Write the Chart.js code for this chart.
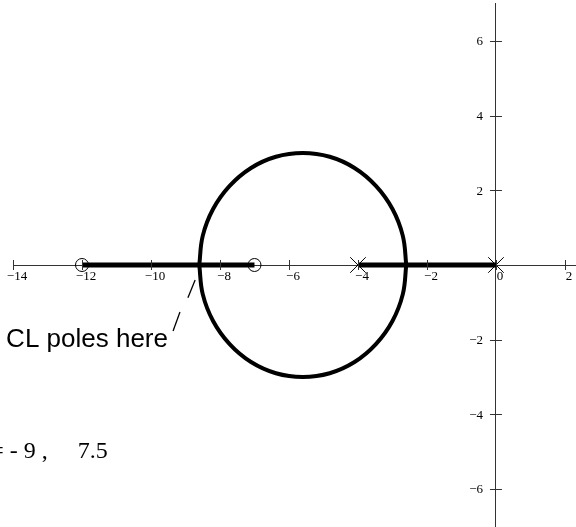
<!DOCTYPE html>
<html>
<head>
<meta charset="utf-8">
<script src="https://cdn.jsdelivr.net/npm/chart.js@4/dist/chart.umd.min.js"></script>
<style>
  html, body { margin: 0; padding: 0; background: #ffffff; }
  #wrap { width: 576px; height: 527px; position: relative; overflow: hidden; }
</style>
</head>
<body>
<div id="wrap"><canvas id="rlocus" width="576" height="527"></canvas></div>
<script>
// Open-loop poles and zeros of G(s) = K (s+7)(s+12) / (s (s+4))
const openLoopPoles = [0, -4];
const openLoopZeros = [-12, -7];

// Real-axis branches of the locus
const realBranchA = [-12, -7];
const realBranchB = [-4, 0];

// Complex branch (upper half), breakaway near -8.6 and -2.6
const upperRe = [-8.60, -8.50, -8.20, -7.72, -7.10, -6.38, -5.60, -4.82, -4.10, -3.48, -3.00, -2.70, -2.60];
const upperIm = [0.00, 0.78, 1.50, 2.12, 2.60, 2.90, 3.00, 2.90, 2.60, 2.12, 1.50, 0.78, 0.00];
// Complex branch (lower half), conjugate of the upper half
const lowerRe = [-8.60, -8.50, -8.20, -7.72, -7.10, -6.38, -5.60, -4.82, -4.10, -3.48, -3.00, -2.70, -2.60];
const lowerIm = [0.00, -0.78, -1.50, -2.12, -2.60, -2.90, -3.00, -2.90, -2.60, -2.12, -1.50, -0.78, 0.00];

// Pointer strokes next to the closed-loop pole label
const pointerOneRe = [-8.72, -8.93];
const pointerOneIm = [-0.40, -0.88];
const pointerTwoRe = [-9.16, -9.36];
const pointerTwoIm = [-1.26, -1.77];

// Axis tick values
const reTicks = [-14, -12, -10, -8, -6, -4, -2, 0, 2];
const imTicks = [-6, -4, -2, 2, 4, 6];

// Text notes
const poleNote = 'CL poles here';
const gainNote = '= - 9 ,     7.5';

const pts = (xs, ys) => xs.map((x, i) => ({ x: x, y: ys[i] }));
const minusFmt = v => (v < 0 ? '\u2212' + Math.abs(v) : String(v));

const ink = '#000000';
const axisInk = '#333333';
const tickFont = { family: '"Liberation Serif", "Times New Roman", serif', size: 13 };

const datasets = [
  { data: pts(upperRe, upperIm), showLine: true, borderColor: ink, borderWidth: 4, pointRadius: 0, tension: 0.4, fill: false },
  { data: pts(lowerRe, lowerIm), showLine: true, borderColor: ink, borderWidth: 4, pointRadius: 0, tension: 0.4, fill: false },
  { data: pts(realBranchA, [0, 0]), showLine: true, borderColor: ink, borderWidth: 5, pointRadius: 0 },
  { data: pts(realBranchB, [0, 0]), showLine: true, borderColor: ink, borderWidth: 5, pointRadius: 0 },
  { data: pts(pointerOneRe, pointerOneIm), showLine: true, borderColor: ink, borderWidth: 1.3, pointRadius: 0 },
  { data: pts(pointerTwoRe, pointerTwoIm), showLine: true, borderColor: ink, borderWidth: 1.3, pointRadius: 0 },
  { data: pts(openLoopPoles, openLoopPoles.map(() => 0)), showLine: false, pointStyle: 'crossRot', pointRadius: 11, borderColor: ink, borderWidth: 1, backgroundColor: 'rgba(0,0,0,0)' },
  { data: pts(openLoopZeros, openLoopZeros.map(() => 0)), showLine: false, pointStyle: 'circle', pointRadius: 6.5, borderColor: ink, borderWidth: 1, backgroundColor: 'rgba(0,0,0,0)' }
];

// Tick marks that cross the axis lines on both sides
const crossTicks = {
  id: 'crossTicks',
  afterDatasetsDraw(chart) {
    const { ctx, scales: { x, y } } = chart;
    const y0 = y.getPixelForValue(0);
    const x0 = x.getPixelForValue(0);
    ctx.save();
    ctx.strokeStyle = axisInk;
    ctx.lineWidth = 1;
    ctx.beginPath();
    reTicks.forEach(v => {
      const px = Math.round(x.getPixelForValue(v)) + 0.5;
      ctx.moveTo(px, y0 - 5);
      ctx.lineTo(px, y0 + 5);
    });
    imTicks.forEach(v => {
      const py = Math.round(y.getPixelForValue(v)) + 0.5;
      ctx.moveTo(x0 - 6, py);
      ctx.lineTo(x0 + 6, py);
    });
    ctx.stroke();
    ctx.restore();
  }
};

// Keep the vertical axis labels clear of the crossing tick marks
const yLabelGap = {
  id: 'yLabelGap',
  beforeDraw(chart) {
    const scale = chart.scales.y;
    const items = scale.getLabelItems(chart.chartArea);
    items.forEach(item => {
      if (!item._shifted) {
        item.options.translation[0] -= 13;
        item.options.translation[1] += 1;
        item._shifted = true;
      }
    });
  }
};

// Text notes anchored in data coordinates
const notes = {
  id: 'notes',
  afterDraw(chart) {
    const { ctx, scales: { x, y } } = chart;
    ctx.save();
    ctx.fillStyle = ink;
    ctx.textAlign = 'left';
    ctx.textBaseline = 'alphabetic';
    ctx.font = '26px "Liberation Sans", Arial, sans-serif';
    ctx.fillText(poleNote, x.getPixelForValue(-14.2), y.getPixelForValue(-2.2));
    ctx.font = '24px "Liberation Serif", "Times New Roman", serif';
    ctx.fillText(gainNote, x.getPixelForValue(-14.66), y.getPixelForValue(-5.18));
    ctx.restore();
  }
};

const noEdgePad = scale => {
  scale.paddingLeft = 0;
  scale.paddingRight = 0;
  scale.paddingTop = 0;
  scale.paddingBottom = 0;
};

new Chart(document.getElementById('rlocus'), {
  type: 'scatter',
  data: { datasets: datasets },
  options: {
    responsive: false,
    animation: false,
    devicePixelRatio: 1,
    layout: { autoPadding: false, padding: { left: 13, right: 0, top: 3, bottom: 0 } },
    plugins: { legend: { display: false }, tooltip: { enabled: false } },
    scales: {
      x: {
        type: 'linear',
        min: -14,
        max: 2.32,
        position: { y: 0 },
        afterBuildTicks: s => { s.ticks = reTicks.map(v => ({ value: v })); },
        afterFit: noEdgePad,
        grid: { display: true, drawOnChartArea: false, drawTicks: false },
        border: { display: true, color: axisInk, width: 1 },
        ticks: {
          color: ink,
          padding: 4,
          labelOffset: 4,
          maxRotation: 0,
          autoSkip: false,
          font: tickFont,
          callback: v => minusFmt(v)
        }
      },
      y: {
        type: 'linear',
        min: -7.02,
        max: 7.02,
        position: { x: 0 },
        afterBuildTicks: s => { s.ticks = imTicks.map(v => ({ value: v })); },
        afterFit: noEdgePad,
        grid: { display: true, drawOnChartArea: false, drawTicks: false },
        border: { display: true, color: axisInk, width: 1 },
        ticks: {
          color: ink,
          autoSkip: false,
          font: tickFont,
          callback: v => minusFmt(v)
        }
      }
    }
  },
  plugins: [yLabelGap, crossTicks, notes]
});
</script>
</body>
</html>
